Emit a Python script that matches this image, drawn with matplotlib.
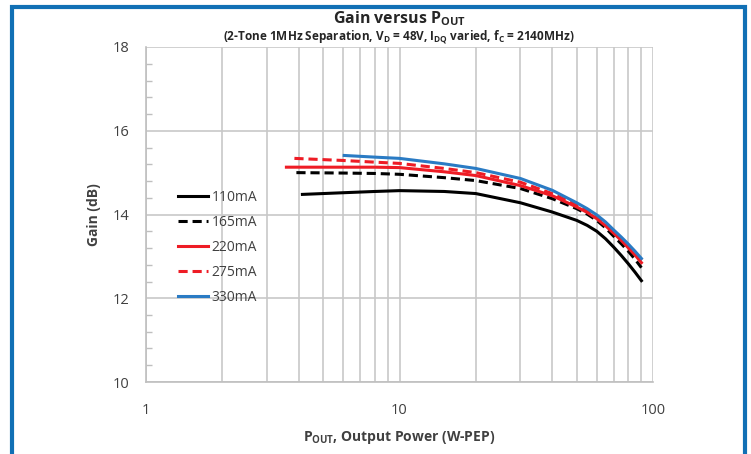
import numpy as np
import matplotlib
matplotlib.use('Agg')
import matplotlib.pyplot as plt
from matplotlib.patches import Rectangle
from matplotlib.ticker import LogLocator, MultipleLocator, NullFormatter, FixedLocator

plt.rcParams['font.family'] = ['Open Sans', 'DejaVu Sans']

# data (W-PEP, dB)
pout_110 = [4.14, 6, 8, 10, 15, 20, 30, 40, 50, 55, 60, 65, 70, 75, 80, 85, 90]
gain_110 = [14.48, 14.52, 14.55, 14.57, 14.55, 14.50, 14.28, 14.06, 13.86, 13.74, 13.60, 13.42, 13.22, 13.02, 12.82, 12.62, 12.42]

pout_165 = [3.92, 6, 8, 10, 15, 20, 30, 40, 50, 55, 60, 65, 70, 75, 80, 85, 90]
gain_165 = [15.00, 14.99, 14.98, 14.96, 14.88, 14.81, 14.62, 14.38, 14.14, 14.01, 13.86, 13.68, 13.48, 13.30, 13.12, 12.93, 12.73]

pout_220 = [3.58, 6, 8, 10, 15, 20, 30, 40, 50, 55, 60, 65, 70, 75, 80, 85, 90]
gain_220 = [15.13, 15.13, 15.13, 15.12, 15.02, 14.93, 14.69, 14.45, 14.18, 14.05, 13.90, 13.73, 13.55, 13.38, 13.20, 13.03, 12.85]

pout_275 = [3.85, 6, 8, 10, 15, 20, 30, 40, 50, 55, 60, 65, 70, 75, 80, 85, 90]
gain_275 = [15.34, 15.29, 15.25, 15.22, 15.10, 15.00, 14.77, 14.50, 14.23, 14.09, 13.94, 13.77, 13.59, 13.42, 13.25, 13.08, 12.90]

pout_330 = [6.05, 8, 10, 15, 20, 30, 40, 50, 55, 60, 65, 70, 75, 80, 85, 90]
gain_330 = [15.41, 15.37, 15.34, 15.21, 15.10, 14.86, 14.58, 14.28, 14.14, 13.99, 13.82, 13.63, 13.46, 13.29, 13.12, 12.95]

series = [
    ('110mA', pout_110, gain_110, 'black', '-'),
    ('165mA', pout_165, gain_165, 'black', '--'),
    ('220mA', pout_220, gain_220, '#ee1c25', '-'),
    ('275mA', pout_275, gain_275, '#ee1c25', '--'),
    ('330mA', pout_330, gain_330, '#2a7bc4', '-'),
]

fig = plt.figure(figsize=(7.51, 4.54), dpi=100)
ax = fig.add_axes([146/751, 1-382/454, (653-146)/751, (382-47)/454])

for lab, x, y, c, ls in series:
    ax.plot(x, y, color=c, ls=ls, lw=2.2, label=lab,
            dashes=(3, 1.6) if ls == '--' else (None, None))

ax.set_xscale('log')
ax.set_xlim(1, 100)
ax.set_ylim(10, 18)
ax.xaxis.set_major_locator(FixedLocator([1, 10, 100]))
ax.xaxis.set_major_formatter(plt.FuncFormatter(lambda v, p: f'{v:g}'))
ax.xaxis.set_minor_locator(LogLocator(base=10, subs=np.arange(2, 10)))
ax.xaxis.set_minor_formatter(NullFormatter())
ax.yaxis.set_major_locator(MultipleLocator(2))
ax.yaxis.set_minor_locator(MultipleLocator(0.4))

ax.grid(True, which='major', color='#c8c8c8', lw=1.2)
ax.grid(True, which='minor', axis='x', color='#c8c8c8', lw=1.2)
for s in ['top', 'right']:
    ax.spines[s].set_visible(False)
for s in ['left', 'bottom']:
    ax.spines[s].set_color('#bfbfbf')
    ax.spines[s].set_linewidth(1.2)

ax.tick_params(axis='both', which='both', length=0, labelsize=10.5, colors='#404040')
ax.tick_params(axis='y', which='minor', direction='in', length=4, color='#bfbfbf', width=1)
ax.tick_params(axis='x', pad=15)
ax.tick_params(axis='y', pad=12)

ax.set_ylabel('Gain (dB)', fontsize=10, fontweight='bold', color='#404040', labelpad=8)
ax.set_xlabel(r'P$_{\mathregular{OUT}}$, Output Power (W-PEP)', fontsize=10,
              fontweight='bold', color='#404040', labelpad=8)

fig.text(399/751, 1-19/454, r'Gain versus P$_{\mathregular{OUT}}$', ha='center', va='center',
         fontsize=11.5, fontweight='bold', color='#262626')
fig.text(399/751, 1-37/454,
         r'(2-Tone 1MHz Separation, V$_{\mathregular{D}}$ = 48V, I$_{\mathregular{DQ}}$ varied, f$_{\mathregular{C}}$ = 2140MHz)',
         ha='center', va='center', fontsize=8.5, fontweight='bold', color='#262626')

leg = ax.legend(loc='upper left', bbox_to_anchor=(0.038, 0.61), frameon=False,
                fontsize=10, handlelength=2.2, handletextpad=0.25, labelspacing=0.72)
for t in leg.get_texts():
    t.set_color('#404040')

# blue frame round the figure
fig.patches.append(Rectangle((11.5/751, -0.05), (744.5-11.5)/751, 1.05 - 6.5/454,
                             transform=fig.transFigure, fill=False,
                             edgecolor='#1170b5', lw=3, zorder=10))

fig.savefig('out.png', dpi=100)
